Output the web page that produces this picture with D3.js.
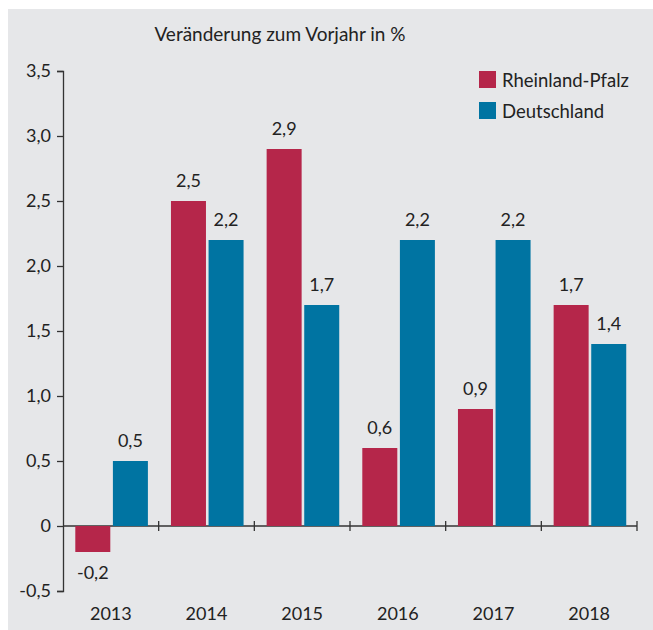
<!DOCTYPE html>
<html>
<head>
<meta charset="utf-8">
<script src="https://cdn.jsdelivr.net/npm/d3@7"></script>
<style>
  body { margin: 0; background: #fff; }
  text { font-family: Lato, "Open Sans", sans-serif; fill: #222; }
</style>
</head>
<body>
<script>
// values
var years = ["2013", "2014", "2015", "2016", "2017", "2018"];
var rlp = [-0.2, 2.5, 2.9, 0.6, 0.9, 1.7];
var de = [0.5, 2.2, 1.7, 2.2, 2.2, 1.4];
var seriesNames = ["Rheinland-Pfalz", "Deutschland"];
var yTicks = [-0.5, 0, 0.5, 1, 1.5, 2, 2.5, 3, 3.5];

var colors = ["#b5264a", "#0074a2"];
var width = 653, height = 630;

var svg = d3.select("body").append("svg")
    .attr("width", width)
    .attr("height", height);

// gray panel
svg.append("rect")
    .attr("x", 8).attr("y", 9)
    .attr("width", width - 8).attr("height", height - 9)
    .attr("fill", "#e6e7e9");

var de_locale = d3.formatLocale({decimal: ",", thousands: ".", grouping: [3], currency: ["", " €"], minus: "-"});
var fmt1 = de_locale.format(".1f");
var tickFmt = function(d) { return d === 0 ? "0" : fmt1(d); };

var x = d3.scaleBand().domain(years).range([63, 637]);
var y = d3.scaleLinear().domain([-0.5, 3.5]).range([591, 71]);

var pad = 12.3, barW = 35, gap = 2.6;

// title
svg.append("text")
    .attr("x", 280).attr("y", 41)
    .attr("text-anchor", "middle")
    .style("font-size", "19px")
    .text("Veränderung zum Vorjahr in %");

// y axis
var yAxis = svg.append("g")
    .attr("transform", "translate(63,0)")
    .call(d3.axisLeft(y).tickValues(yTicks).tickFormat(tickFmt).tickSize(6).tickPadding(6));
yAxis.select(".domain").attr("stroke", "#333").attr("stroke-width", 1.3);
yAxis.selectAll(".tick line").attr("stroke", "#333").attr("stroke-width", 1.3);
yAxis.selectAll(".tick text").style("font-size", "18px").attr("fill", "#222");

// x axis line at zero
var xAxis = svg.append("g").attr("transform", "translate(0," + y(0) + ")");
xAxis.append("line")
    .attr("x1", 63).attr("x2", 637)
    .attr("stroke", "#333").attr("stroke-width", 1.3);
xAxis.selectAll(".sep")
    .data(years)
  .enter().append("line")
    .attr("x1", function(d) { return x(d) + x.bandwidth(); })
    .attr("x2", function(d) { return x(d) + x.bandwidth(); })
    .attr("y1", -5).attr("y2", 5)
    .attr("stroke", "#333").attr("stroke-width", 1.3);

svg.selectAll(".year")
    .data(years)
  .enter().append("text")
    .attr("x", function(d) { return x(d) + x.bandwidth() / 2; })
    .attr("y", 620)
    .attr("text-anchor", "middle")
    .style("font-size", "18px")
    .text(function(d) { return d; });

// bars
var series = [rlp, de];
series.forEach(function(vals, s) {
  var g = svg.append("g");
  var xs = function(i) { return x(years[i]) + pad + s * (barW + gap); };
  g.selectAll("rect")
      .data(vals)
    .enter().append("rect")
      .attr("x", function(d, i) { return xs(i); })
      .attr("y", function(d) { return y(Math.max(0, d)); })
      .attr("width", barW)
      .attr("height", function(d) { return Math.abs(y(d) - y(0)); })
      .attr("fill", colors[s]);
  g.selectAll("text")
      .data(vals)
    .enter().append("text")
      .attr("x", function(d, i) { return xs(i) + barW / 2; })
      .attr("y", function(d) { return d >= 0 ? y(d) - 14 : y(d) + 27; })
      .attr("text-anchor", "middle")
      .style("font-size", "18px")
      .text(function(d) { return fmt1(d); });
});

// legend
var leg = svg.append("g").attr("transform", "translate(479,71)");
seriesNames.forEach(function(name, i) {
  leg.append("rect")
      .attr("x", 0).attr("y", i * 31)
      .attr("width", 17).attr("height", 17)
      .attr("fill", colors[i]);
  leg.append("text")
      .attr("x", 23).attr("y", i * 31 + 15.5)
      .style("font-size", "18.5px")
      .text(name);
});
</script>
</body>
</html>
